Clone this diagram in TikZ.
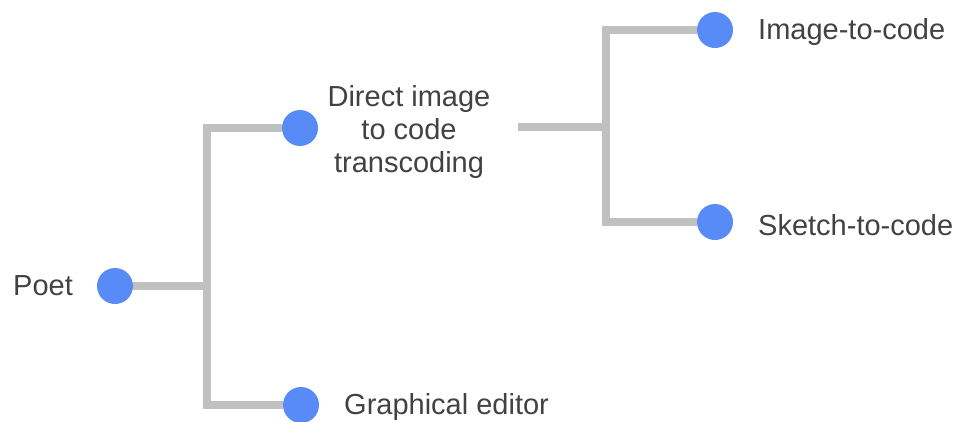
\documentclass[tikz,border=0pt]{standalone}
\usepackage{fontspec}
\setmainfont{Liberation Sans}
\definecolor{dotblue}{RGB}{88,139,247}
\definecolor{linegray}{RGB}{192,192,192}
\definecolor{txtgray}{RGB}{66,66,66}
\begin{document}
\begin{tikzpicture}[x=1pt,y=-1pt,
  dotnode/.style={circle,fill=dotblue,draw=none,minimum size=36pt,inner sep=0pt},
  conn/.style={draw=linegray,line width=8pt,line join=miter},
  lbl/.style={text=txtgray,font=\fontsize{29}{33}\selectfont,inner sep=0pt,anchor=base west},
  mlbl/.style={text=txtgray,font=\fontsize{29}{33}\selectfont,inner sep=0pt,align=center}]
\useasboundingbox (0,0) rectangle (960,421);
% dots
\node[dotnode] (poet) at (115,286) {};
\node[dotnode] (dit) at (300,128) {};
\node[dotnode] (ge) at (301,405) {};
\node[dotnode] (itc) at (715,30) {};
\node[dotnode] (stc) at (715,222) {};
% labels
\node[lbl] (poetl) at (13,295) {Poet};
\node[mlbl] (ditl) at (409,132) {Direct image\\to code\\transcoding};
\node[lbl] (gel) at (344,414) {Graphical editor};
\node[lbl] (itcl) at (758,39) {Image-to-code};
\node[lbl] (stcl) at (758,235) {Sketch-to-code};
% junctions
\coordinate (j1) at (207,286);
\coordinate (jt) at (207,128);
\coordinate (jb) at (207,405);
\coordinate (k0) at (518,127);
\coordinate (k1) at (606,127);
\coordinate (kt) at (606,30);
\coordinate (kb) at (606,222);
% connectors
\draw[conn] (poet) -- (j1);
\draw[conn] (dit) -- (jt) -- (jb) -- (ge);
\draw[conn] (k0) -- (k1);
\draw[conn] (itc) -- (kt) -- (kb) -- (stc);
\end{tikzpicture}
\end{document}
